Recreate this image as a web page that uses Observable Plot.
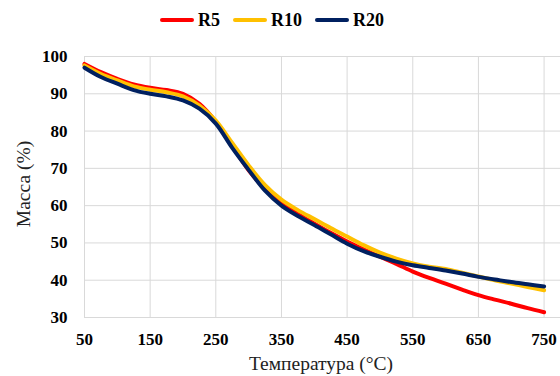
<!DOCTYPE html>
<html>
<head>
<meta charset="utf-8">
<script src="https://cdn.jsdelivr.net/npm/d3@7"></script>
<script src="https://cdn.jsdelivr.net/npm/@observablehq/plot@0.6"></script>
<style>
  html, body { margin: 0; padding: 0; background: #fff; }
  #wrap { position: relative; width: 560px; height: 376px; overflow: hidden; font-family: "Liberation Serif", serif; }
  #legend { position: absolute; top: 0; left: 0; width: 560px; height: 40px; display: flex; align-items: center; justify-content: center; gap: 13px; box-sizing: border-box; transform: translateX(-8px); }
  .item { display: flex; align-items: center; gap: 4px; font-weight: bold; font-size: 18px; color: #000; }
  .sw { width: 34px; height: 4px; border-radius: 2px; }
  #chart { position: absolute; top: 40px; left: 0; }
  #xtitle { position: absolute; left: 0; width: 642px; top: 353px; text-align: center; font-size: 19.5px; color: #222; }
  #ytitle { position: absolute; left: 24px; top: 184px; transform: translate(-50%, -50%) rotate(-90deg); white-space: nowrap; font-size: 19.5px; color: #222; }
</style>
</head>
<body>
<div id="wrap">
  <div id="legend"></div>
  <div id="chart"></div>
  <div id="xtitle">Температура (°C)</div>
  <div id="ytitle">Масса (%)</div>
</div>
<script>
const seriesNames = ["R5", "R10", "R20"];
const seriesColors = ["#ff0000", "#ffc000", "#002060"];
const xTicks = [50, 150, 250, 350, 450, 550, 650, 750];
const yTicks = [30, 40, 50, 60, 70, 80, 90, 100];
const temps = [50, 75, 100, 125, 150, 175, 200, 225, 250, 275, 300, 325, 350, 375, 400, 425, 450, 475, 500, 525, 550, 575, 600, 625, 650, 675, 700, 725, 750];
const r5  = [98.0, 95.8, 94.0, 92.5, 91.6, 91.0, 90.0, 87.3, 82.5, 76.0, 69.5, 64.5, 60.7, 57.8, 55.2, 52.7, 50.4, 48.3, 46.3, 44.4, 42.3, 40.6, 39.1, 37.5, 36.0, 34.8, 33.7, 32.5, 31.4];
const r10 = [97.6, 95.3, 93.6, 92.0, 91.1, 90.4, 89.3, 86.8, 82.8, 76.8, 70.8, 65.5, 61.6, 58.8, 56.4, 54.0, 51.7, 49.4, 47.4, 45.8, 44.5, 43.6, 43.0, 42.0, 41.0, 40.0, 39.1, 38.2, 37.3];
const r20 = [97.0, 94.5, 92.7, 91.0, 90.0, 89.3, 88.2, 86.0, 82.0, 75.5, 69.6, 64.0, 60.0, 57.2, 54.8, 52.3, 49.8, 47.8, 46.3, 45.0, 44.0, 43.3, 42.6, 41.8, 40.9, 40.2, 39.5, 38.9, 38.3];

const seriesValues = [r5, r10, r20];
const data = seriesNames.flatMap((name, i) => temps.map((t, j) => ({series: name, t, m: seriesValues[i][j]})));

const legend = document.getElementById("legend");
seriesNames.forEach((n, i) => {
  const it = document.createElement("div");
  it.className = "item";
  it.innerHTML = `<span class="sw" style="background:${seriesColors[i]}"></span><span>${n}</span>`;
  legend.appendChild(it);
});

const chart = Plot.plot({
  width: 560,
  height: 336,
  marginTop: 16,
  marginBottom: 59,
  marginLeft: 84,
  marginRight: 0,
  style: {fontFamily: "'Liberation Serif', serif", fontSize: "17px", fontWeight: "bold", color: "#000", background: "#fff"},
  x: {domain: [50, 775]},
  y: {domain: [30, 100]},
  color: {domain: seriesNames, range: seriesColors},
  marks: [
    Plot.gridX(xTicks, {stroke: "#d9d9d9", strokeOpacity: 1, strokeWidth: 1}),
    Plot.gridY(yTicks, {stroke: "#d9d9d9", strokeOpacity: 1, strokeWidth: 1}),
    Plot.line(data, {x: "t", y: "m", z: "series", stroke: "series", strokeWidth: 4, curve: "catmull-rom", strokeLinecap: "round"}),
    Plot.axisX(xTicks, {tickSize: 0, tickPadding: 15, label: null}),
    Plot.axisY(yTicks, {tickSize: 0, tickPadding: 17, label: null})
  ]
});
document.getElementById("chart").appendChild(chart);
</script>
</body>
</html>
